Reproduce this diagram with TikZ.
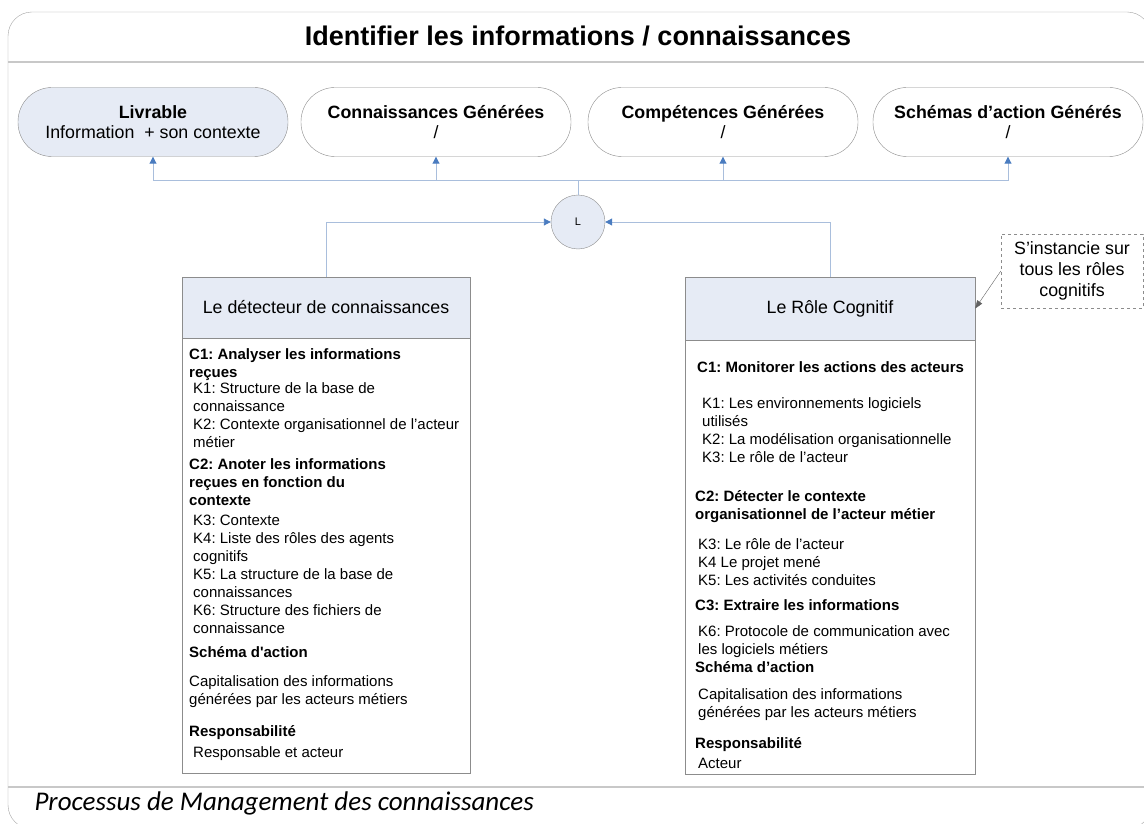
\documentclass[tikz,border=0pt]{standalone}
\usepackage{fontspec}
\setmainfont{Liberation Sans}
\newfontfamily\calib{Carlito}
\usetikzlibrary{positioning,arrows.meta}
\frenchspacing

\definecolor{boxfill}{HTML}{E6EBF5}
\definecolor{linkline}{HTML}{A9BEDC}
\definecolor{linkhead}{HTML}{4A7CC0}
\definecolor{rulegray}{HTML}{C8C8C8}
\definecolor{edge}{HTML}{8C8C8C}

\begin{document}
\begin{tikzpicture}[
    x=1pt, y=-1pt,
    pill/.style={
        draw=edge,
        rounded corners=34pt,
        minimum width=270pt,
        minimum height=69pt,
        inner sep=0pt,
        align=center,
        font=\fontsize{17.8}{20}\selectfont
    },
    head/.style={draw=edge, fill=boxfill, minimum height=61pt,
        font=\fontsize{17.8}{20}\selectfont},
    body/.style={draw=edge, fill=white},
    itm/.style={anchor=north west, align=left, inner sep=0pt,
        font=\fontsize{15}{18}\selectfont},
    titem/.style={itm, font=\bfseries\fontsize{15}{18}\selectfont},
    link/.style={draw=linkline, line width=0.9pt,
        -{Triangle[length=7pt, width=7pt, color=linkhead]}},
    note/.style={draw=edge, dashed, minimum width=142pt, minimum height=74pt,
        align=center, font=\fontsize{17.8}{21}\selectfont}
]
\clip (0,0) rectangle (1144,824);
\useasboundingbox (0,0) rectangle (1144,824);

% ============================================================
% CADRE
% ============================================================
\draw[edge!80, rounded corners=24pt] (8,12) rectangle (1151,829);
\draw[rulegray, line width=1.5pt] (8,62) -- (1144,62);
\draw[rulegray, line width=2pt] (8,787) -- (1144,787);
\node[font=\bfseries\fontsize{27}{30}\selectfont] (titre) at (578,36)
    {Identifier les informations / connaissances};
\node[anchor=west, font=\calib\itshape\fontsize{27}{29}\selectfont] (proc)
    at (31,803) {Processus de Management des connaissances};

% ============================================================
% SORTIES
% ============================================================
\node[pill, fill=boxfill] (livr) at (153,122)
    {\textbf{Livrable}\\Information \ + son contexte};
\node[pill, fill=white] (conn) at (436,122)
    {\textbf{Connaissances Générées}\\/};
\node[pill, fill=white] (comp) at (723,122)
    {\textbf{Compétences Générées}\\/};
\node[pill, fill=white] (schem) at (1008,122)
    {\textbf{Schémas d’action Générés}\\/};

\node[circle, draw=edge, fill=boxfill, minimum size=54pt, inner sep=0pt,
      font=\fontsize{11}{12}\selectfont] (lien) at (578,222) {L};
\coordinate (bus) at (578,180);

\draw[draw=linkline, line width=0.9pt] (lien.north) -- (bus);
\draw[link] (bus) -| (livr.south);
\draw[link] (bus) -| (conn.south);
\draw[link] (bus) -| (comp.south);
\draw[link] (bus) -| (schem.south);

% ============================================================
% DETECTEUR
% ============================================================
\node[body, minimum width=288pt, minimum height=435pt, anchor=north]
    (detbody) at (326,338) {};
\node[head, minimum width=288pt] (det) at (326,307.5)
    {Le détecteur de connaissances};

\node[titem] (lc1) at (189,348.5) {C1: Analyser les informations\\reçues};
\node[itm] (lk1) at (193,382.5) {K1: Structure de la base de\\connaissance\\
    K2: Contexte organisationnel de l’acteur\\métier};
\node[titem] (lc2) at (189,458.5) {C2: Anoter les informations\\reçues en fonction du\\contexte};
\node[itm] (lk3) at (193,514.5) {K3: Contexte\\K4: Liste des rôles des agents\\cognitifs\\
    K5: La structure de la base de\\connaissances\\K6: Structure des fichiers de\\connaissance};
\node[titem] (lsa) at (189,646.5) {Schéma d\textquotesingle action};
\node[itm] (lcap) at (189,675.5) {Capitalisation des informations\\générées par les acteurs métiers};
\node[titem] (lres) at (189,725.5) {Responsabilité};
\node[itm] (lresp) at (193,746.5) {Responsable et acteur};

% ============================================================
% ROLE COGNITIF
% ============================================================
\node[body, minimum width=290pt, minimum height=434pt, anchor=north]
    (rolebody) at (830,340) {};
\node[head, minimum width=290pt, minimum height=63pt] (role) at (830,308.5)
    {Le Rôle Cognitif};

\node[titem] (rc1) at (697,361.5) {C1: Monitorer les actions des acteurs};
\node[itm] (rk1) at (702,397.5) {K1: Les environnements logiciels\\utilisés\\
    K2: La modélisation organisationnelle\\K3: Le rôle de l’acteur};
\node[titem] (rc2) at (695,490.5) {C2: Détecter le contexte\\organisationnel de l’acteur métier};
\node[itm] (rk3) at (698,538.5) {K3: Le rôle de l’acteur\\K4 Le projet mené\\K5: Les activités conduites};
\node[titem] (rc3) at (695,599.5) {C3: Extraire les informations};
\node[itm] (rk6) at (698,625.5) {K6: Protocole de communication avec\\les logiciels métiers};
\node[titem] (rsa) at (695,661.5) {Schéma d’action};
\node[itm] (rcap) at (698,688.5) {Capitalisation des informations\\générées par les acteurs métiers};
\node[titem] (rres) at (695,737.5) {Responsabilité};
\node[itm] (ract) at (698,757.5) {Acteur};

\draw[link] (det.north) |- (lien.west);
\draw[link] (role.north) |- (lien.east);

% note
\node[note] (inst) at (1072,271) {S’instancie sur\\tous les rôles\\cognitifs};
\draw[-{Triangle[length=8pt, width=6pt]}, edge!70!black] (inst.west) -- (role.east);

\end{tikzpicture}
\end{document}
